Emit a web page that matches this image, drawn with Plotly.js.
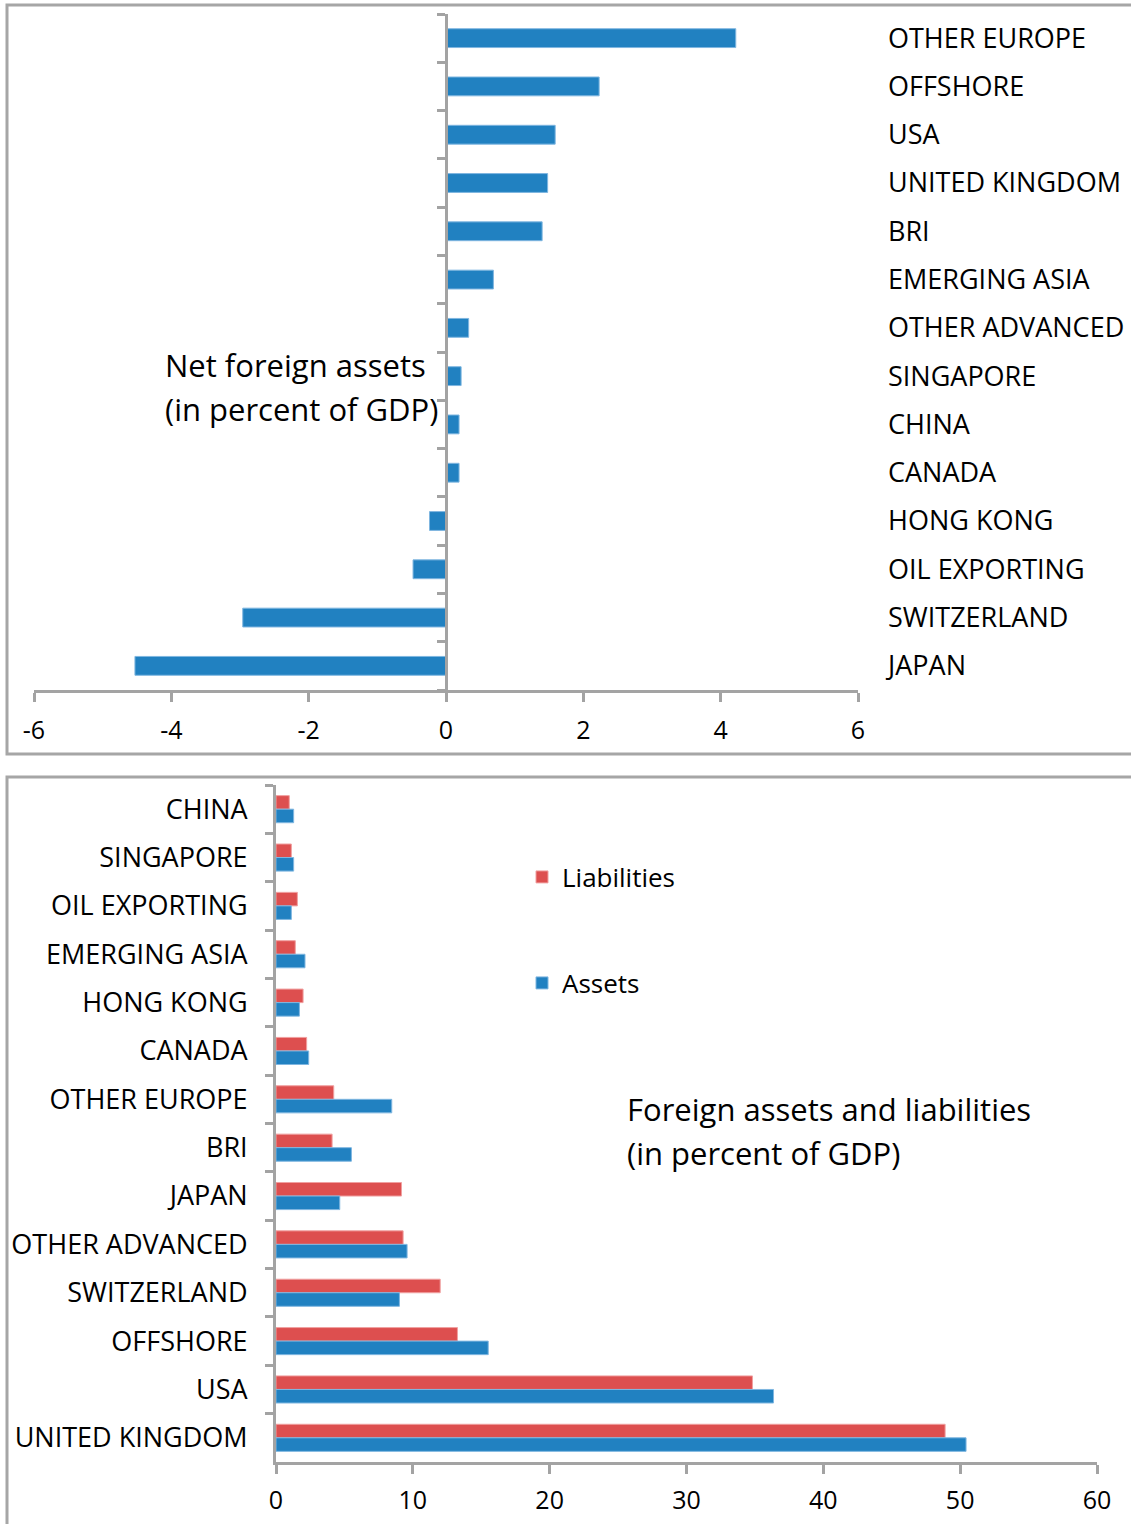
<!DOCTYPE html>
<html>
<head>
<meta charset="utf-8">
<script src="https://cdn.plot.ly/plotly-3.0.1.min.js"></script>
<style>html,body{margin:0;padding:0;background:#fff;} #chart{width:1131px;height:1524px;}</style>
</head>
<body>
<div id="chart"></div>
<script>
// ---- Data ----
var netCategories = ['OTHER EUROPE','OFFSHORE','USA','UNITED KINGDOM','BRI','EMERGING ASIA','OTHER ADVANCED','SINGAPORE','CHINA','CANADA','HONG KONG','OIL EXPORTING','SWITZERLAND','JAPAN'];
var netValues = [4.22, 2.23, 1.59, 1.48, 1.40, 0.69, 0.33, 0.22, 0.19, 0.19, -0.24, -0.48, -2.96, -4.53];

var grossCategories = ['CHINA','SINGAPORE','OIL EXPORTING','EMERGING ASIA','HONG KONG','CANADA','OTHER EUROPE','BRI','JAPAN','OTHER ADVANCED','SWITZERLAND','OFFSHORE','USA','UNITED KINGDOM'];
var liabilities = [0.97, 1.12, 1.56, 1.41, 1.98, 2.24, 4.22, 4.10, 9.17, 9.29, 12.0, 13.26, 34.82, 48.9];
var assets = [1.29, 1.29, 1.12, 2.12, 1.71, 2.39, 8.46, 5.51, 4.66, 9.58, 9.02, 15.51, 36.36, 50.43];

var netTicks = [-6, -4, -2, 0, 2, 4, 6];
var netTickText = ['-6', '-4', '-2', '0', '2', '4', '6'];
var grossTicks = [0, 10, 20, 30, 40, 50, 60];

// ---- Styling ----
var W = 1131, H = 1524;
var FONT = 'Open Sans, Noto Sans, sans-serif';
var AX = '#a3a3a3';
var BLUE = '#2181c1';
var RED = '#dd4f4f';
function px(x){ return x / W; }
function py(y){ return 1 - y / H; }

var boundaries = [];
for (var i = 0; i <= netCategories.length; i++) boundaries.push(i - 0.5);

var traces = [
  {
    type: 'bar', orientation: 'h',
    x: netValues, y: netCategories,
    xaxis: 'x', yaxis: 'y',
    width: 0.39,
    marker: {color: BLUE, line: {color: '#7fb6e0', width: 1}},
    showlegend: false, hoverinfo: 'x+y'
  },
  {
    type: 'scatter', mode: 'markers',
    x: [], y: [],
    xaxis: 'x', yaxis: 'y2',
    showlegend: false, hoverinfo: 'skip'
  },
  {
    type: 'bar', orientation: 'h', name: 'Liabilities',
    x: liabilities, y: grossCategories,
    xaxis: 'x2', yaxis: 'y3',
    width: 0.28, offset: -0.28,
    marker: {color: RED, line: {color: '#f0a0a0', width: 1}},
    legend: 'legend'
  },
  {
    type: 'bar', orientation: 'h', name: 'Assets',
    x: assets, y: grossCategories,
    xaxis: 'x2', yaxis: 'y3',
    width: 0.28, offset: 0,
    marker: {color: BLUE, line: {color: '#7fb6e0', width: 1}},
    legend: 'legend2'
  }
];

var tickFont = {family: FONT, size: 25, color: '#000'};
var catFont = {family: FONT, size: 27, color: '#000'};
var nCat = netCategories.length;

var layout = {
  width: W, height: H,
  margin: {l: 0, r: 0, t: 0, b: 0},
  paper_bgcolor: '#fff', plot_bgcolor: 'rgba(0,0,0,0)',
  font: {family: FONT, color: '#000'},
  barmode: 'overlay',
  xaxis: {
    domain: [px(34), px(858)],
    anchor: 'y',
    range: [-6, 6],
    tickmode: 'array', tickvals: netTicks, ticktext: netTickText,
    showgrid: false, zeroline: false,
    showline: true, linecolor: AX, linewidth: 3,
    ticks: 'outside', ticklen: 9, tickwidth: 3, tickcolor: AX,
    tickfont: tickFont, ticklabelstandoff: 7,
    fixedrange: true
  },
  yaxis: {
    domain: [py(690), py(14)],
    type: 'category', categoryarray: netCategories, categoryorder: 'array',
    range: [nCat - 0.5, -0.5],
    anchor: 'free', position: px(887), side: 'right',
    showline: false, showgrid: false, zeroline: false, ticks: '',
    tickfont: catFont,
    fixedrange: true
  },
  yaxis2: {
    overlaying: 'y',
    range: [nCat - 0.5, -0.5],
    anchor: 'free', position: px(446), side: 'left',
    showline: true, linecolor: AX, linewidth: 3,
    tickmode: 'array', tickvals: boundaries,
    ticks: 'outside', ticklen: 8, tickwidth: 3, tickcolor: AX,
    showticklabels: false, showgrid: false, zeroline: false,
    fixedrange: true
  },
  xaxis2: {
    domain: [px(276), px(1097)],
    anchor: 'y3',
    range: [0, 60],
    tickmode: 'array', tickvals: grossTicks,
    showgrid: false, zeroline: false,
    showline: true, linecolor: AX, linewidth: 3,
    ticks: 'outside', ticklen: 9, tickwidth: 3, tickcolor: AX,
    tickfont: tickFont, ticklabelstandoff: 5,
    fixedrange: true
  },
  yaxis3: {
    domain: [py(1462), py(785)],
    anchor: 'x2',
    type: 'category', categoryarray: grossCategories, categoryorder: 'array',
    range: [grossCategories.length - 0.5, -0.5],
    showline: true, linecolor: AX, linewidth: 3,
    ticks: 'outside', ticklen: 8, tickwidth: 3, tickcolor: AX,
    tickson: 'boundaries',
    showgrid: false, zeroline: false,
    tickfont: catFont, ticklabelstandoff: 20,
    fixedrange: true
  },
  legend: {
    x: px(522), y: py(877), xanchor: 'left', yanchor: 'middle',
    bgcolor: 'rgba(0,0,0,0)', borderwidth: 0,
    font: {family: FONT, size: 26, color: '#000'}
  },
  legend2: {
    x: px(522), y: py(983), xanchor: 'left', yanchor: 'middle',
    bgcolor: 'rgba(0,0,0,0)', borderwidth: 0,
    font: {family: FONT, size: 26, color: '#000'}
  },
  shapes: [
    {type: 'rect', xref: 'paper', yref: 'paper', x0: px(7), x1: px(1140), y0: py(754), y1: py(5),
     line: {color: '#a6a6a6', width: 3}, fillcolor: 'rgba(0,0,0,0)', layer: 'below'},
    {type: 'rect', xref: 'paper', yref: 'paper', x0: px(7), x1: px(1140), y0: py(1540), y1: py(777),
     line: {color: '#a6a6a6', width: 3}, fillcolor: 'rgba(0,0,0,0)', layer: 'below'}
  ],
  annotations: [
    {xref: 'paper', yref: 'paper', x: px(163), y: py(365), xanchor: 'left', yanchor: 'middle',
     text: 'Net foreign assets', showarrow: false, font: {family: FONT, size: 31, color: '#000'}},
    {xref: 'paper', yref: 'paper', x: px(163), y: py(409), xanchor: 'left', yanchor: 'middle',
     text: '(in percent of GDP)', showarrow: false, font: {family: FONT, size: 31, color: '#000'}},
    {xref: 'paper', yref: 'paper', x: px(625), y: py(1109), xanchor: 'left', yanchor: 'middle',
     text: 'Foreign assets and liabilities', showarrow: false, font: {family: FONT, size: 31, color: '#000'}},
    {xref: 'paper', yref: 'paper', x: px(625), y: py(1153), xanchor: 'left', yanchor: 'middle',
     text: '(in percent of GDP)', showarrow: false, font: {family: FONT, size: 31, color: '#000'}}
  ]
};

Plotly.newPlot('chart', traces, layout, {displayModeBar: false, staticPlot: true});
</script>
</body>
</html>
